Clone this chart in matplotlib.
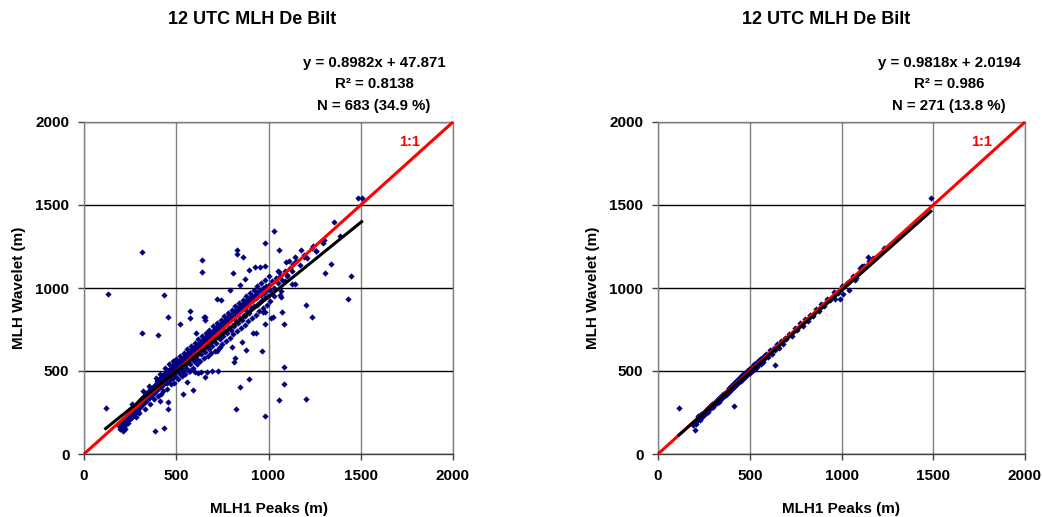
import numpy as np
import matplotlib
matplotlib.use("Agg")
import matplotlib.pyplot as plt

plt.rcParams['font.family'] = ['Liberation Sans', 'DejaVu Sans']
plt.rcParams['font.weight'] = 'bold'

title = "12 UTC MLH De Bilt"
xlabel = "MLH1 Peaks (m)"
ylabel = "MLH Wavelet (m)"
ticks = [0, 500, 1000, 1500, 2000]

# fit results printed on the chart
left_fit = (0.8982, 47.871)
left_stats = ["y = 0.8982x + 47.871", "R² = 0.8138", "N = 683 (34.9 %)"]
right_fit = (0.9818, 2.0194)
right_stats = ["y = 0.9818x + 2.0194", "R² = 0.986", "N = 271 (13.8 %)"]

# left panel: (MLH1 peaks, MLH wavelet)
left_outliers = [
    (132, 966), (314, 1215), (117, 279), (314, 727), (401, 719), (434, 958),
    (457, 825), (387, 139), (434, 155), (414, 321), (457, 311), (457, 271),
    (640, 1169), (640, 1098), (576, 859), (576, 817), (520, 781), (656, 823),
    (609, 727), (538, 359), (591, 386), (824, 271), (846, 404), (893, 454),
    (981, 227), (1059, 323), (1084, 422), (1084, 526), (1203, 331), (1203, 896),
    (1235, 827), (1433, 932), (1447, 1072), (1308, 1090), (1337, 1143),
    (1355, 1398), (1388, 1315), (1487, 1540), (1505, 1540), (1028, 1343),
    (981, 1273), (828, 1229), (828, 1203), (860, 1185), (806, 1090),
    (1059, 1229), (1176, 1229), (1260, 1223), (1296, 1273), (1236, 1243),
    (1193, 1185), (1142, 1185), (1113, 1161), (1095, 1159), (893, 1110),
    (925, 1124), (952, 1124), (981, 1132), (1056, 1098), (1135, 1143),
    (846, 1020), (873, 1054), (791, 986), (719, 934), (743, 926), (650, 825),
    (656, 805), (969, 853), (983, 853), (1023, 825), (1014, 817), (1082, 781),
    (1066, 944), (1075, 855), (1063, 958), (1146, 1026), (1128, 1026),
    (1102, 1074), (1088, 1042), (981, 783), (931, 727), (918, 727), (965, 622),
    (878, 624), (820, 578), (815, 556), (855, 673), (800, 643), (737, 643),
    (719, 622), (725, 500), (692, 500), (656, 466), (665, 496), (632, 496),
    (620, 486), (602, 496), (575, 500), (557, 436),
]
left_band = [
    (190, 170), (195, 150), (200, 160), (205, 185), (210, 175), (212, 140),
    (215, 200), (218, 165), (220, 190), (222, 150), (225, 210), (228, 180),
    (230, 195), (232, 230), (235, 205), (238, 215), (240, 185), (243, 240),
    (245, 225), (248, 210), (250, 250), (252, 235), (255, 215), (258, 260),
    (260, 245), (263, 230), (265, 270), (268, 255), (270, 240), (272, 280),
    (275, 265), (278, 290), (280, 250), (283, 275), (285, 300), (288, 285),
    (290, 260), (293, 310), (295, 295), (298, 280), (300, 320), (303, 300),
    (305, 285), (308, 330), (310, 310), (313, 295), (315, 340), (318, 325),
    (320, 305), (323, 350), (325, 330), (328, 315), (330, 355), (333, 340),
    (335, 320), (338, 365), (340, 350), (343, 330), (345, 370), (348, 355),
    (350, 340), (353, 380), (355, 365), (358, 345), (360, 390), (363, 375),
    (365, 355), (368, 400), (370, 380), (373, 360), (375, 405), (378, 390),
    (380, 370), (383, 415), (385, 400), (388, 380), (390, 420), (393, 405),
    (395, 440), (398, 390), (400, 425), (403, 410), (405, 450), (408, 395),
    (410, 435), (413, 420), (415, 460), (418, 440), (420, 405), (423, 470),
    (425, 445), (428, 430), (430, 475), (433, 455), (435, 420), (438, 485),
    (440, 465), (443, 445), (445, 490), (448, 470), (450, 430), (453, 500),
    (455, 480), (458, 460), (460, 505), (463, 490), (465, 445), (468, 515),
    (470, 495), (473, 475), (475, 520), (478, 500), (480, 460), (483, 530),
    (485, 510), (488, 490), (490, 540), (493, 520), (495, 470), (498, 545),
    (500, 525), (505, 505), (508, 555), (510, 535), (515, 490), (518, 560),
    (520, 545), (525, 520), (528, 570), (530, 550), (535, 500), (538, 580),
    (540, 560), (545, 535), (548, 590), (550, 570), (555, 520), (558, 600),
    (560, 580), (565, 555), (568, 610), (570, 590), (575, 540), (578, 620),
    (580, 600), (585, 575), (588, 630), (590, 610), (595, 560), (598, 640),
    (600, 620), (605, 590), (608, 650), (610, 630), (615, 575), (618, 660),
    (620, 640), (625, 610), (628, 670), (630, 650), (635, 600), (638, 680),
    (640, 660), (645, 630), (648, 690), (650, 670), (655, 615), (658, 700),
    (660, 680), (665, 650), (668, 710), (670, 690), (675, 630), (678, 720),
    (680, 700), (685, 670), (688, 730), (690, 710), (695, 650), (698, 740),
    (700, 720), (705, 690), (708, 750), (710, 730), (715, 670), (718, 760),
    (720, 740), (725, 705), (728, 770), (730, 750), (735, 690), (738, 780),
    (740, 760), (745, 720), (748, 790), (750, 770), (755, 710), (758, 800),
    (760, 780), (765, 740), (768, 810), (770, 790), (775, 730), (778, 820),
    (780, 800), (785, 760), (788, 830), (790, 810), (795, 745), (798, 840),
    (800, 820), (805, 780), (808, 850), (810, 830), (815, 770), (818, 860),
    (820, 840), (825, 800), (828, 870), (830, 850), (835, 790), (838, 880),
    (840, 860), (845, 820), (848, 890), (850, 870), (855, 810), (858, 900),
    (860, 880), (865, 840), (868, 910), (870, 890), (875, 830), (878, 920),
    (880, 900), (885, 860), (888, 930), (890, 910), (895, 850), (898, 940),
    (900, 920), (905, 880), (910, 950), (915, 930), (920, 890), (925, 960),
    (930, 940), (935, 900), (940, 975), (945, 950), (950, 910), (955, 985),
    (960, 960), (965, 930), (970, 1000), (975, 970), (980, 940), (985, 1010),
    (990, 985), (995, 950), (1000, 1020), (1010, 990), (1020, 1040),
    (1030, 1000), (1040, 1060), (1050, 1030), (1060, 1070), (1075, 1050),
    (1090, 1100), (1100, 1080), (1115, 1120), (1130, 1100), (1150, 1160),
    (1170, 1140), (1190, 1200), (1210, 1180), (1240, 1250), (1260, 1220),
    (1300, 1290),
]
# looser points either side of the main band
left_spread = [
    (260, 300), (280, 220), (300, 250), (320, 380), (330, 270), (350, 410),
    (360, 300), (380, 330), (390, 460), (400, 350), (410, 480), (420, 360),
    (430, 380), (440, 520), (450, 390), (460, 540), (470, 420), (480, 560),
    (490, 430), (500, 570), (510, 450), (520, 590), (530, 470), (540, 610),
    (550, 480), (560, 630), (570, 500), (580, 650), (590, 520), (600, 670),
    (610, 540), (620, 690), (630, 560), (640, 710), (650, 580), (660, 730),
    (670, 590), (680, 750), (690, 610), (700, 770), (710, 620), (720, 790),
    (730, 640), (740, 810), (750, 660), (760, 830), (770, 680), (780, 850),
    (790, 700), (800, 870), (810, 720), (820, 890), (830, 740), (840, 910),
    (850, 760), (860, 930), (870, 780), (880, 950), (890, 800), (900, 970),
    (910, 820), (920, 990), (930, 840), (940, 1010), (950, 860), (960, 1030),
    (970, 880), (980, 1050), (990, 900), (1000, 1070), (1010, 920),
    (1030, 950), (1050, 1100), (1070, 980),
]

# right panel
right_outliers = [
    (114, 279), (199, 143), (414, 289), (638, 534), (1487, 1540), (1041, 990),
    (992, 934), (963, 932), (1229, 1239), (1144, 1189), (1113, 1134),
    (1073, 1048), (1008, 964),
]
right_band = [
    (190, 175), (200, 195), (205, 180), (210, 210), (215, 200), (220, 230),
    (225, 215), (230, 205), (235, 240), (240, 225), (245, 250), (250, 235),
    (255, 260), (260, 245), (265, 270), (270, 255), (275, 280), (280, 270),
    (285, 290), (290, 275), (295, 300), (300, 285), (305, 310), (310, 300),
    (315, 320), (320, 305), (325, 330), (330, 315), (335, 340), (340, 325),
    (345, 350), (350, 335), (355, 360), (360, 350), (365, 370), (370, 355),
    (375, 380), (380, 370), (385, 395), (390, 380), (395, 405), (400, 390),
    (405, 415), (410, 400), (415, 425), (420, 410), (425, 440), (430, 420),
    (435, 450), (440, 435), (445, 460), (450, 440), (455, 470), (460, 450),
    (465, 480), (470, 460), (475, 490), (480, 470), (485, 500), (490, 480),
    (495, 510), (500, 490), (505, 520), (510, 500), (515, 530), (520, 505),
    (525, 540), (530, 515), (535, 550), (540, 525), (545, 560), (550, 540),
    (555, 570), (560, 545), (565, 580), (570, 555), (575, 590), (580, 570),
    (590, 600), (600, 585), (610, 625), (620, 605), (630, 640), (640, 625),
    (650, 660), (660, 640), (670, 680), (680, 665), (690, 700), (700, 690),
    (715, 720), (730, 710), (745, 760), (760, 745), (775, 790), (790, 770),
    (800, 815), (815, 800), (830, 840), (845, 830), (860, 875), (875, 860),
    (890, 905), (905, 890), (920, 935), (940, 930), (960, 975), (980, 970),
    (1000, 1010), (1030, 1030), (1060, 1070), (1080, 1060), (1100, 1120),
    (1120, 1130), (1150, 1160), (1170, 1180),
]


def draw_panel(fig, rect, pairs, fit, stats, title_x, stats_x):
    ax = fig.add_axes(rect)
    pts = np.array(pairs, dtype=float)
    x, y = pts[:, 0], pts[:, 1]

    ax.set_xlim(0, 2000)
    ax.set_ylim(0, 2000)
    ax.set_xticks(ticks)
    ax.set_yticks(ticks)
    ax.xaxis.grid(True, color='#808080', linewidth=1.0)
    ax.yaxis.grid(True, color='black', linewidth=1.0)
    ax.set_axisbelow(True)
    for s in ax.spines.values():
        s.set_color('#808080')
        s.set_linewidth(1.0)
    ax.spines['bottom'].set_color('#404040')
    ax.tick_params(direction='out', length=4.5, width=1, color='#404040',
                   labelsize=11, pad=6)

    ax.plot(x, y, 'D', color='#000080', markersize=3.2, markeredgewidth=0,
            zorder=3)
    ax.plot([0, 2000], [0, 2000], color='red', linewidth=2.2, zorder=4,
            clip_on=False, solid_capstyle='butt')
    fx = np.array([x.min(), x.max()])
    ax.plot(fx, fit[0] * fx + fit[1], color='black', linewidth=2.2, zorder=5)
    ax.text(1765, 1880, "1:1", color='red', fontsize=10.5, fontweight='bold',
            ha='center', va='center')

    ax.set_xlabel(xlabel, fontsize=11, fontweight='bold', labelpad=14)
    ax.set_ylabel(ylabel, fontsize=11, fontweight='bold', labelpad=7)

    fig.text(title_x, 1 - 19 / 517, title, fontsize=13, fontweight='bold',
             ha='center', va='center')
    for i, line in enumerate(stats):
        fig.text(stats_x, 1 - (63 + 21.5 * i) / 517, line, fontsize=10.8,
                 fontweight='bold', ha='center', va='center')
    return ax


fig = plt.figure(figsize=(10.42, 5.17), dpi=100)
draw_panel(fig, [84 / 1042, 63 / 517, 369 / 1042, 332 / 517],
           left_outliers + left_band + left_spread, left_fit, left_stats,
           252 / 1042, 374 / 1042)
draw_panel(fig, [658 / 1042, 63 / 517, 367 / 1042, 332 / 517],
           right_outliers + right_band, right_fit, right_stats,
           826 / 1042, 949 / 1042)

fig.savefig("out.png", dpi=100)
